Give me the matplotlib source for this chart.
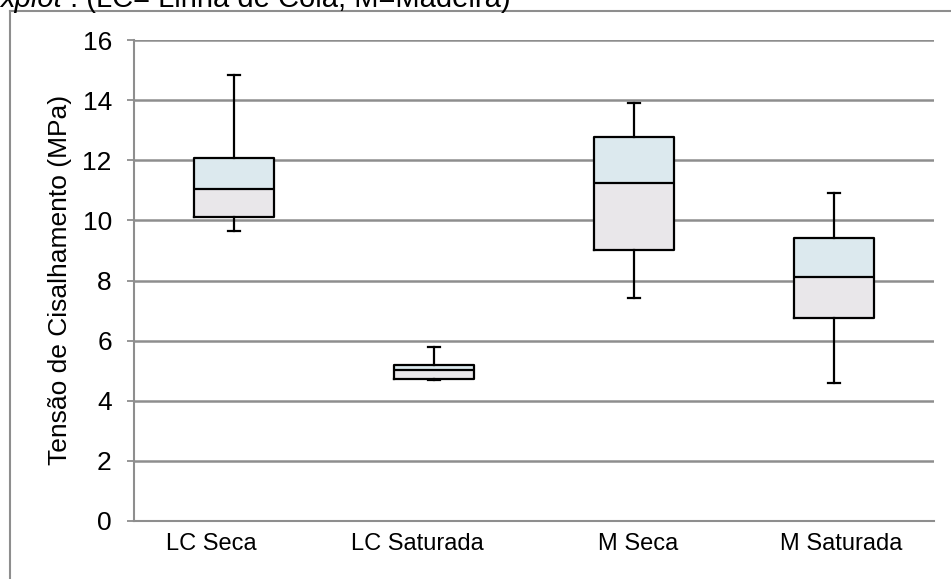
import matplotlib
matplotlib.use("Agg")
import matplotlib.pyplot as plt
from matplotlib.lines import Line2D

plt.rcParams["font.family"] = ["Liberation Sans", "DejaVu Sans"]

# Shear strength statistics per group (MPa)
categories = ["LC Seca", "LC Saturada", "M Seca", "M Saturada"]
whisker_low = [9.66, 4.69, 7.41, 4.58]
q1 = [10.10, 4.73, 9.03, 6.76]
median = [11.04, 5.02, 11.25, 8.12]
q3 = [12.09, 5.20, 12.76, 9.42]
whisker_high = [14.85, 5.78, 13.92, 10.91]
y_ticks = [0, 2, 4, 6, 8, 10, 12, 14, 16]

# Category label anchors along the x axis (slightly offset from the box centres)
label_shift = [-0.115, -0.085, 0.02, 0.035]

upper_color = "#DCE9EE"
lower_color = "#E9E7EA"
grid_color = "#8E8E8E"

W, H = 951, 579
fig = plt.figure(figsize=(W / 100, H / 100), dpi=100)
ax = fig.add_axes([134 / W, 1 - 521 / H, 800 / W, 481 / H])

pos = list(range(len(categories)))
box_w = 0.40

# Two-tone box fills: Q1..median and median..Q3
ax.bar(pos, [m - a for m, a in zip(median, q1)], bottom=q1, width=box_w,
       color=lower_color, edgecolor="none", zorder=2)
ax.bar(pos, [b - m for b, m in zip(q3, median)], bottom=median, width=box_w,
       color=upper_color, edgecolor="none", zorder=2)

stats = [
    dict(whislo=wl, q1=a, med=m, q3=b, whishi=wh, fliers=[], label=c)
    for c, wl, a, m, b, wh in zip(categories, whisker_low, q1, median, q3, whisker_high)
]
lw = 1.6
ax.bxp(stats, positions=pos, widths=box_w, showfliers=False,
       patch_artist=False, manage_ticks=False,
       boxprops=dict(color="black", linewidth=lw),
       medianprops=dict(color="black", linewidth=lw),
       whiskerprops=dict(color="black", linewidth=lw),
       capprops=dict(color="black", linewidth=lw),
       capwidths=0.06, zorder=3)

ax.set_xlim(-0.5, len(categories) - 0.5)
ax.set_ylim(0, 16)
ax.set_yticks(y_ticks)
ax.set_yticklabels([str(t) for t in y_ticks], fontsize=19)
ax.set_xticks([p + s for p, s in zip(pos, label_shift)])
ax.set_xticklabels(categories, fontsize=17)
ax.tick_params(axis="x", length=0, pad=9)
ax.tick_params(axis="y", length=5, width=1.3, color=grid_color, pad=11)

ax.yaxis.grid(True, color=grid_color, linewidth=1.8)
ax.set_axisbelow(True)
for side in ("top", "right"):
    ax.spines[side].set_visible(False)
for side in ("left", "bottom"):
    ax.spines[side].set_color(grid_color)
    ax.spines[side].set_linewidth(1.5)

ax.set_ylabel("Tensão de Cisalhamento (MPa)", fontsize=19)
ax.yaxis.set_label_coords((72 - 134) / 800, (521 - 280) / 481)

# Surrounding frame lines (left and top)
fig.add_artist(Line2D([10 / W, 10 / W], [0, 1 - 11 / H], color=grid_color,
                      linewidth=1.5, transform=fig.transFigure))
fig.add_artist(Line2D([10 / W, 1], [1 - 11 / H, 1 - 11 / H], color=grid_color,
                      linewidth=1.5, transform=fig.transFigure))

# Caption line at the top edge
t1 = fig.text(0 / W, 1 - 7 / H, "xplot", fontsize=21, style="italic",
              ha="left", va="baseline")
fig.canvas.draw()
bb = t1.get_window_extent()
fig.text(bb.x1 / W, 1 - 7 / H, " : (LC= Linha de Cola, M=Madeira)", fontsize=21,
         ha="left", va="baseline")

fig.savefig("out.png", dpi=100)
